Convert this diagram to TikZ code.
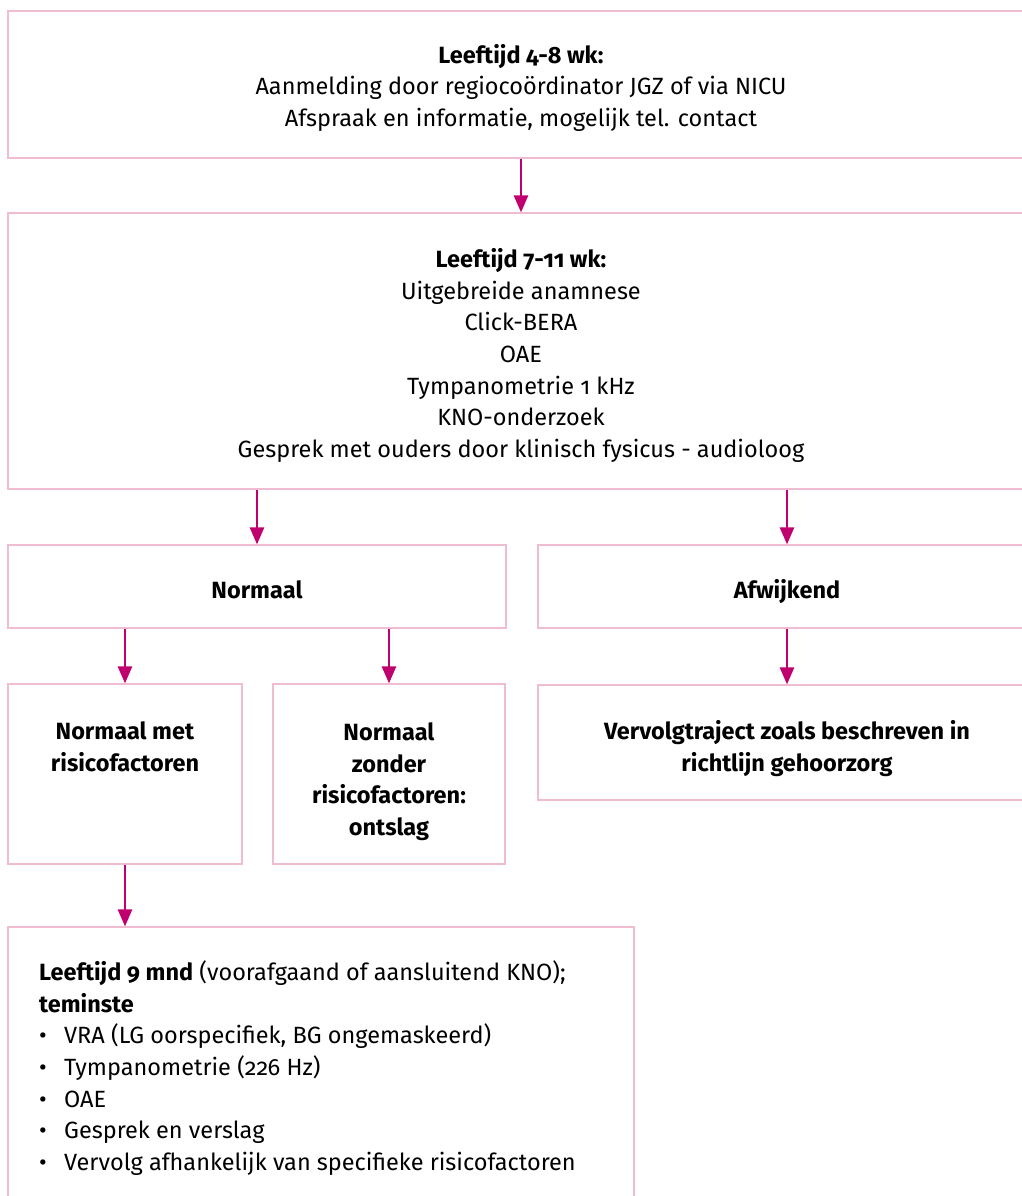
\documentclass[tikz,border=0pt]{standalone}
\usepackage{fontspec}
\setmainfont{Fira Sans}[Numbers=OldStyle]
\usetikzlibrary{arrows.meta}
\definecolor{boxline}{RGB}{240,188,210}
\definecolor{arrowc}{RGB}{192,0,110}
\newcommand\boxfont{\fontsize{23.5}{31.7}\selectfont}
\begin{document}
\begin{tikzpicture}[x=1pt,y=-1pt,
  box/.style={draw=boxline, line width=1.2pt, inner sep=0pt},
  txt/.style={inner sep=0pt, font=\boxfont, align=center, anchor=base},
  conn/.style={draw=arrowc, line width=2.6pt, -{Triangle[length=17pt,width=14pt]}}]
\useasboundingbox (0,0) rectangle (1022,1196);
\clip (0,0) rectangle (1022,1196);

% boxes
\node[box, minimum width=1026pt, minimum height=147pt] (b1) at (521,84.5) {};
\node[box, minimum width=1026pt, minimum height=276pt] (b2) at (521,351) {};
\node[box, minimum width=498pt, minimum height=83pt] (norm) at (257,586.5) {};
\node[box, minimum width=498pt, minimum height=83pt] (afw) at (787,586.5) {};
\node[box, minimum width=234pt, minimum height=180pt] (nmr) at (125,774) {};
\node[box, minimum width=232pt, minimum height=180pt] (nzr) at (389,774) {};
\node[box, minimum width=498pt, minimum height=115pt] (verv) at (787,742.5) {};
\node[box, minimum width=626pt, minimum height=290pt] (bot) at (321,1072) {};

% texts (anchored on the baseline of their last line)
\node[txt] (b1t) at (521,126.5)
  {\textbf{Leeftijd 4-8 wk:}\\Aanmelding door regiocoördinator JGZ of via NICU\\Afspraak en informatie, mogelijk tel. contact};
\node[txt] (b2t) at (521,457.5)
  {\textbf{Leeftijd 7-11 wk:}\\Uitgebreide anamnese\\Click-BERA\\OAE\\Tympanometrie 1 kHz\\KNO-onderzoek\\Gesprek met ouders door klinisch fysicus - audioloog};
\node[txt] (normt) at (257,598.5) {\textbf{Normaal}};
\node[txt] (afwt) at (787,598.5) {\textbf{Afwijkend}};
\node[txt] (nmrt) at (125,771.5) {\textbf{Normaal met}\\\textbf{risicofactoren}};
\node[txt] (nzrt) at (389,835.5)
  {\textbf{Normaal}\\\textbf{zonder}\\\textbf{risicofactoren:}\\\textbf{ontslag}};
\node[txt] (vervt) at (787,771.5)
  {\textbf{Vervolgtraject zoals beschreven in}\\\textbf{richtlijn gehoorzorg}};
\node[txt, align=left, anchor=base west] (bott) at (39,1170.5)
  {\textbf{Leeftijd 9 mnd} (voorafgaand of aansluitend KNO);\\
   \textbf{teminste}\\
   \makebox[25pt][l]{•}VRA (LG oorspecifiek, BG ongemaskeerd)\\
   \makebox[25pt][l]{•}Tympanometrie (226 Hz)\\
   \makebox[25pt][l]{•}OAE\\
   \makebox[25pt][l]{•}Gesprek en verslag\\
   \makebox[25pt][l]{•}Vervolg afhankelijk van specifieke risicofactoren};

% connectors
\draw[conn] (b1.south) -- (b2.north);
\draw[conn] (norm.north |- b2.south) -- (norm.north);
\draw[conn] (afw.north |- b2.south) -- (afw.north);
\draw[conn] (nmr.north |- norm.south) -- (nmr.north);
\draw[conn] (nzr.north |- norm.south) -- (nzr.north);
\draw[conn] (afw.south) -- (verv.north);
\draw[conn] (nmr.south) -- (nmr.south |- bot.north);
\end{tikzpicture}
\end{document}
